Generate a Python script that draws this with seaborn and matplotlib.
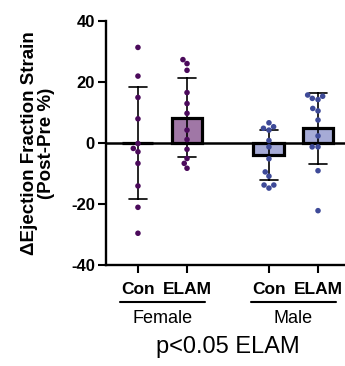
import matplotlib
matplotlib.use('Agg')
import matplotlib.pyplot as plt
import seaborn as sns
import pandas as pd

# values (Post-Pre %)
female_con = [31.3, 21.9, 14.9, 7.9, -0.2, -1.8, -2.9, -6.7, -14.1, -21.1, -29.6]
female_elam = [27.3, 26.0, 23.8, 16.5, 12.9, 9.7, 4.2, 1.1, -2.1, -5.1, -6.7, -8.3]
male_con = [6.6, 4.8, 4.2, 5.3, 0.8, -1.3, -5.2, -9.5, -10.9, -13.8, -13.8, -14.8]
male_elam = [14.6, 15.3, 14.2, 15.7, 10.5, 11.3, 7.5, 2.3, -1.3, -1.3, -9.1, -22.2]

groups = ['Female', 'Male']
treatments = ['Con', 'ELAM']
tick_labels = ['Con', 'ELAM', 'Con', 'ELAM']

# x layout (gap between the two sexes is wider than within)
xpos = {('Female', 'Con'): 0.0, ('Female', 'ELAM'): 1.0,
        ('Male', 'Con'): 2.67, ('Male', 'ELAM'): 3.67}

rows = []
for sex, trt, vals in [('Female', 'Con', female_con), ('Female', 'ELAM', female_elam),
                       ('Male', 'Con', male_con), ('Male', 'ELAM', male_elam)]:
    for v in vals:
        rows.append({'sex': sex, 'trt': trt, 'x': xpos[(sex, trt)], 'value': v})
df = pd.DataFrame(rows)

bar_colors = {'Female': '#A077A6', 'Male': '#A6ABD6'}
dot_colors = {'Female': '#4B0A5B', 'Male': '#3E4A98'}

sns.set_style('ticks')
plt.rcParams['font.family'] = ['Liberation Sans', 'DejaVu Sans']
plt.rcParams.update({'text.color': 'black', 'axes.labelcolor': 'black',
                     'xtick.color': 'black', 'ytick.color': 'black'})

fig = plt.figure(figsize=(3.45, 3.66), dpi=100)
ax = fig.add_axes([0.307, 0.276, 0.693, 0.667])

ax.axhline(0, color='black', linewidth=1.8, zorder=1.5)

sns.barplot(data=df, x='x', y='value', hue='sex', palette=bar_colors, native_scale=True,
            dodge=False, errorbar='sd', capsize=0.35, width=0.63, linewidth=2.3,
            edgecolor='black', saturation=1, err_kws={'color': 'black', 'linewidth': 1.2},
            legend=False, ax=ax)
sns.swarmplot(data=df, x='x', y='value', hue='sex', palette=dot_colors, native_scale=True,
              dodge=False, size=4, legend=False, ax=ax, zorder=4)

ax.set_xlim(-0.653, 4.22)
ax.set_ylim(-40, 40)
ax.set_yticks([-40, -20, 0, 20, 40])
ax.set_yticklabels(['-40', '-20', '0', '20', '40'], fontweight='bold', fontsize=12)
ax.set_xticks(list(xpos.values()))
ax.set_xticklabels(tick_labels, fontweight='bold', fontsize=12.5)
ax.tick_params(axis='both', length=6, width=1.5)
ax.tick_params(axis='x', pad=6.5)
ax.tick_params(axis='y', pad=2)
for s in ['left', 'bottom']:
    ax.spines[s].set_linewidth(1.7)
    ax.spines[s].set_color('black')
sns.despine(ax=ax)

ax.set_xlabel('')
ax.set_ylabel('ΔEjection Fraction Strain\n(Post-Pre %)', fontweight='bold', fontsize=13.5,
              linespacing=1.05)
ax.yaxis.set_label_coords(-0.212, 0.5)

# group underline + group names
tr = ax.get_xaxis_transform()
for sex in groups:
    c = (xpos[(sex, 'Con')] + xpos[(sex, 'ELAM')]) / 2
    ax.plot([c - 0.86, c + 0.86], [-0.152, -0.152], color='black', linewidth=1.5,
            transform=tr, clip_on=False)
    ax.text(c, -0.218, sex, transform=tr, ha='center', va='center', fontsize=13)

fig.text(0.661, 0.052, 'p<0.05 ELAM', ha='center', va='center', fontsize=17)

fig.savefig('out.png', dpi=100)
